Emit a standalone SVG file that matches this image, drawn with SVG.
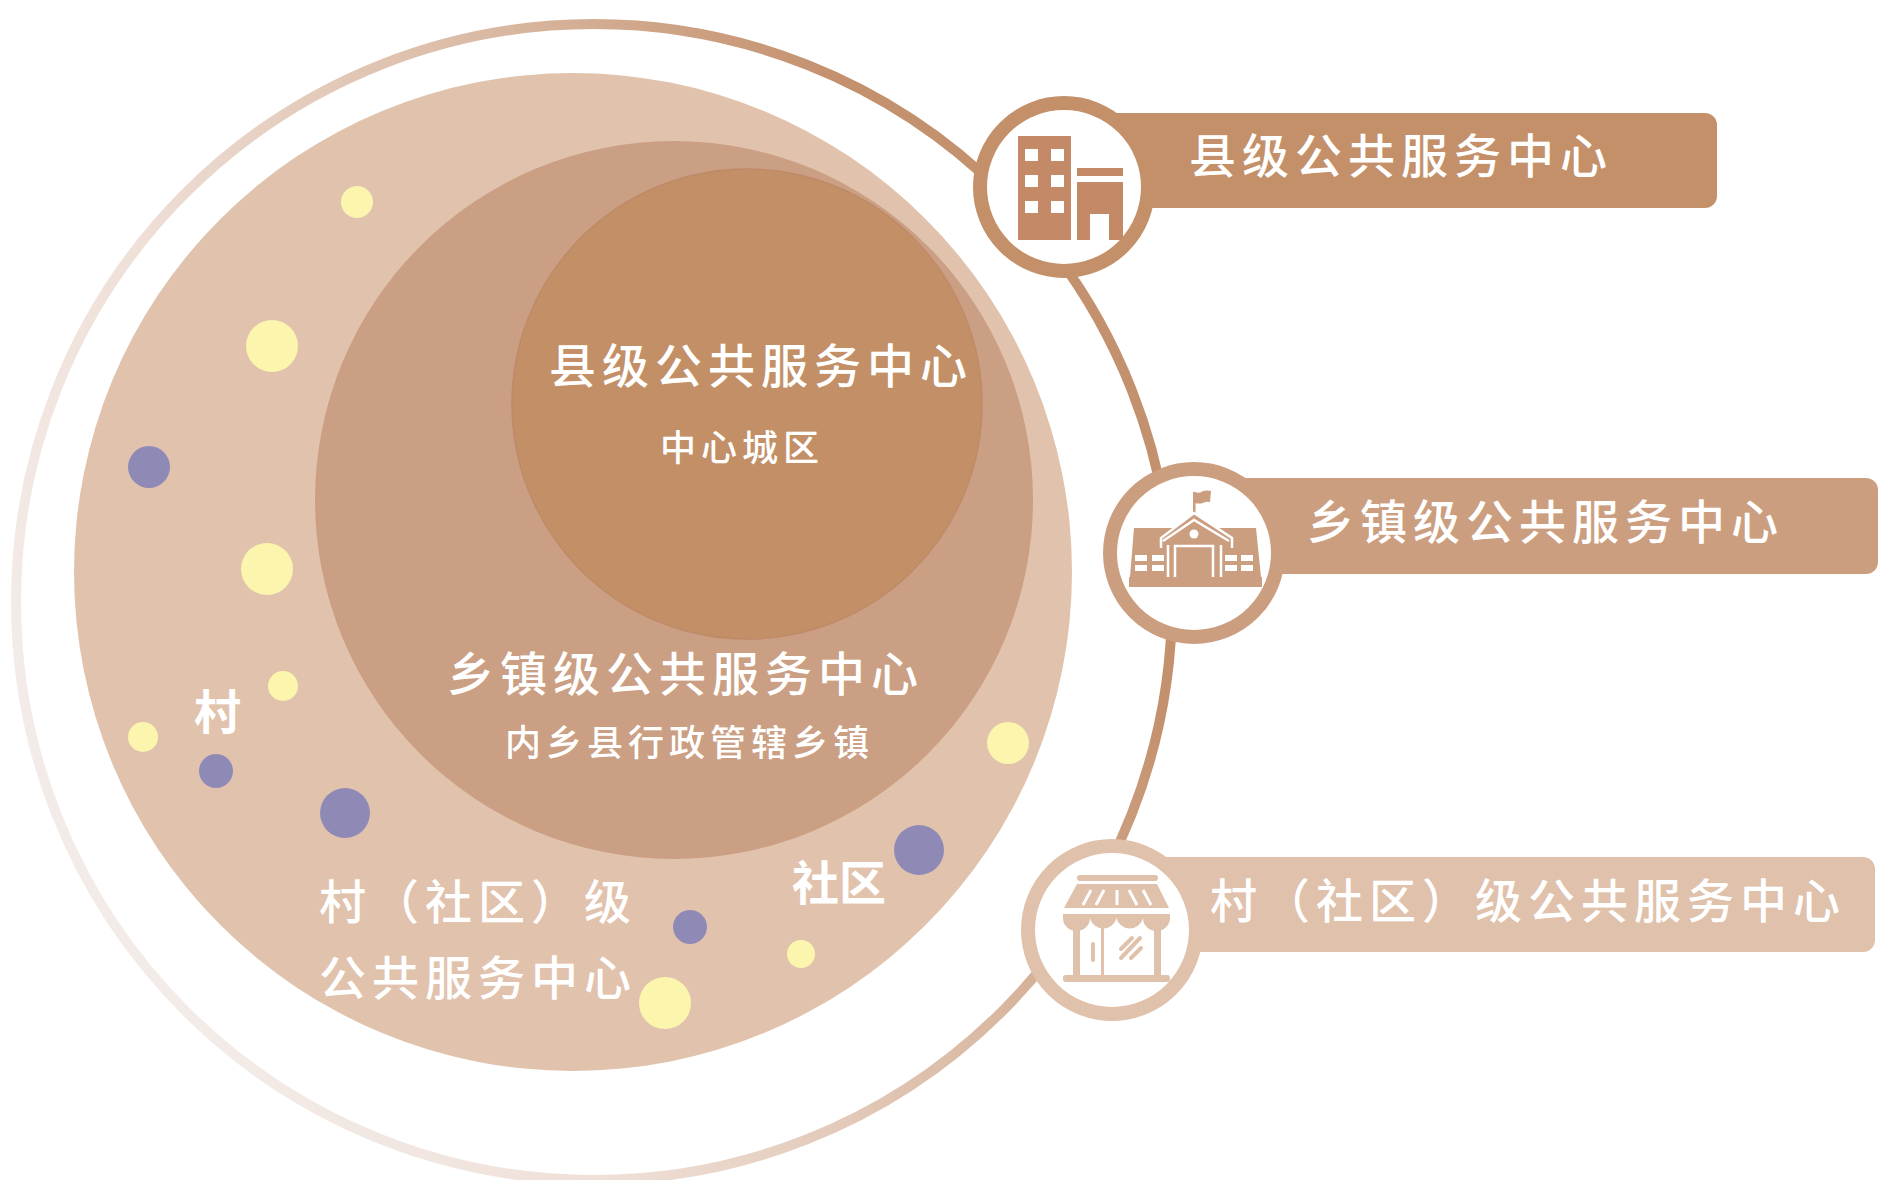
<svg xmlns="http://www.w3.org/2000/svg" width="1886" height="1180" viewBox="0 0 1886 1180">
<style>
text{font-family:"Noto Sans CJK SC","Noto Sans",sans-serif;fill:#fff;font-weight:500}
.t{font-size:47px;letter-spacing:6px}
.s{font-size:36px;letter-spacing:5px}
.b{font-size:47px;font-weight:700}
.y{fill:#fbf5ae}.p{fill:#8f89b6}
.ring{fill:#fff;stroke-width:14}
.w{fill:#fff}
.wl{fill:none;stroke:#fff;stroke-width:2.5}
.a{fill:#cc9e80}
.v{fill:#e0c1ab}
.vl{fill:none;stroke:#e0c1ab;stroke-width:4;stroke-linecap:round}
</style>
<defs><linearGradient id="g" gradientUnits="userSpaceOnUse" x1="100" y1="800" x2="1100" y2="300"><stop offset="0" stop-color="#f3ebe7"/><stop offset=".25" stop-color="#efe0d8"/><stop offset=".63" stop-color="#d9b8a1"/><stop offset=".88" stop-color="#c4916e"/></linearGradient></defs>
<rect width="1886" height="1180" fill="#fff"/>
<g id="connectors"><circle cx="594" cy="602" r="578" fill="none" stroke="url(#g)" stroke-width="10"/></g>
<g id="discs">
<circle cx="573" cy="572" r="499" fill="#e1c3ad"/>
<circle cx="674" cy="500" r="359" fill="#ca9f83"/>
<circle cx="747" cy="404" r="235" fill="#c28f67" stroke="#bf8a68" stroke-width="1.5"/>
</g>
<g id="dots">
<circle class="y" cx="357" cy="202" r="16"/><circle class="y" cx="272" cy="346" r="26"/><circle class="y" cx="267" cy="569" r="26"/><circle class="y" cx="283" cy="686" r="15"/><circle class="y" cx="143" cy="737" r="15"/><circle class="y" cx="1008" cy="743" r="21"/><circle class="y" cx="801" cy="954" r="14"/><circle class="y" cx="665" cy="1003" r="26"/>
<circle class="p" cx="149" cy="467" r="21"/><circle class="p" cx="216" cy="771" r="17"/><circle class="p" cx="345" cy="813" r="25"/><circle class="p" cx="919" cy="850" r="25"/><circle class="p" cx="690" cy="927" r="17"/>
</g>
<g id="labels">
<text class="t" x="549" y="383">县级公共服务中心</text>
<text class="s" x="660" y="461">中心城区</text>
<text class="t" x="447" y="691">乡镇级公共服务中心</text>
<text class="s" x="505" y="756">内乡县行政管辖乡镇</text>
<text class="b" x="194" y="729">村</text>
<text class="b" x="792" y="900">社区</text>
<text class="t" x="319" y="919">村（社区）级</text>
<text class="t" x="319" y="995">公共服务中心</text>
</g>
<g id="node-county">
<path d="M1100 113H1705a12 12 0 0 1 12 12V196a12 12 0 0 1 -12 12H1100Z" fill="#c49069"/>
<circle class="ring" cx="1064" cy="187" r="84" stroke="#c49069"/>
<path d="M1018 136h53v104h-53z M1077 168h46v8h-46z M1077 182h46v58h-14v-26h-19v26h-13z" fill="#c48a68"/>
<path class="w" d="M1025 149h13v12h-13z M1051 149h13v12h-13z M1025 175h13v12h-13z M1051 175h13v12h-13z M1025 201h13v12h-13z M1051 201h13v12h-13z"/>
<text class="t" x="1189" y="173">县级公共服务中心</text>
</g>
<g id="node-town">
<path d="M1230 478H1866a12 12 0 0 1 12 12V562a12 12 0 0 1 -12 12H1230Z" fill="#cc9e80"/>
<circle class="ring" cx="1194" cy="553" r="84" stroke="#cc9e80"/>
<path class="a" d="M1193 492h2.500v22h-2.500z M1195 492q5 2 8-1q4-1 8 0l-1 11q-4-1-7 1q-4 1-8 0z M1134 528H1256L1261 577H1130Z M1129 577h133v10H1129z"/>
<path class="a" d="M1194 512L1232 539V548H1161V539Z"/>
<path class="wl" d="M1161 548V538L1194 513L1232 538V548"/>
<path class="wl" d="M1163 541L1194 520L1229 541"/>
<path class="wl" d="M1168 545V577M1221 545V577"/>
<path class="wl" d="M1175 577V546H1213V577"/>
<circle class="w" cx="1194" cy="534" r="4.500"/>
<path class="w" d="M1135 555h12v6h-12z M1152 555h12v6h-12z M1135 565h12v6h-12z M1152 565h12v6h-12z M1225 555h12v6h-12z M1241 555h12v6h-12z M1225 565h12v6h-12z M1241 565h12v6h-12z"/>
<text class="t" x="1307" y="539">乡镇级公共服务中心</text>
</g>
<g id="node-village">
<path d="M1150 857H1863a12 12 0 0 1 12 12V940a12 12 0 0 1 -12 12H1150Z" fill="#e0c1ab"/>
<circle class="ring" cx="1112" cy="930" r="84" stroke="#e0c1ab"/>
<rect class="v" x="1077" y="875" width="81" height="6" rx="3"/>
<path class="v" d="M1077 884H1157L1169 908H1064Z"/>
<path class="v" d="M1063 914H1170V918A13.500 13 0 0 1 1143 918A13.500 13 0 0 1 1116.500 918A13.500 13 0 0 1 1090 918A13.500 13 0 0 1 1063 918Z"/>
<path class="v" d="M1073 925h7v50h-7z M1154 925h7v50h-7z M1101 925h3v50h-3z"/>
<rect class="v" x="1063" y="975" width="107" height="7" rx="3"/>
<path d="M1083 905L1091 890M1096 905L1104 890M1117 905V890M1137 905L1129 890M1151 905L1143 890" fill="none" stroke="#fff" stroke-width="3"/>
<path class="vl" d="M1093 944V960M1121 949L1132 938M1121 958L1140 938M1131 958L1141 948"/>
<text class="t" x="1210" y="918">村（社区）级公共服务中心</text>
</g>
</svg>
